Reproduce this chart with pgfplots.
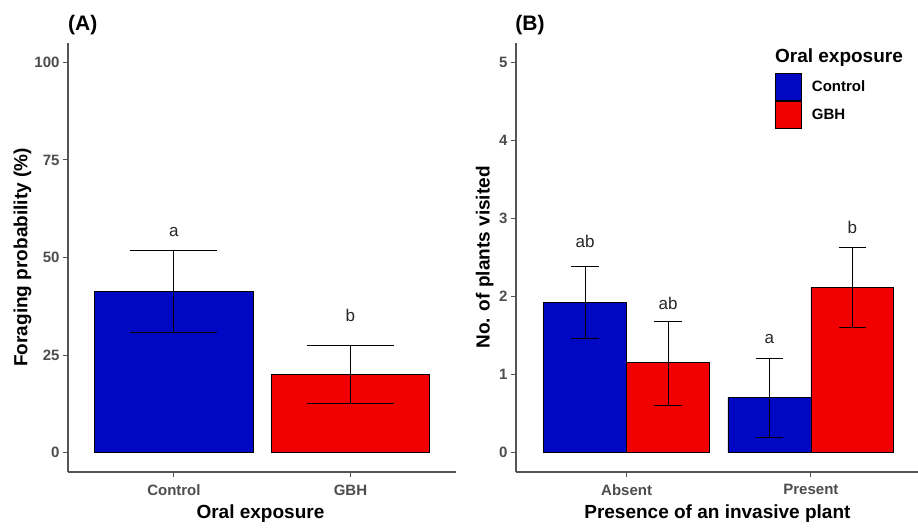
\documentclass[border=0pt]{standalone}
\usepackage{fontspec}
\setmainfont{Liberation Sans}
\usepackage{pgfplots}
\pgfplotsset{compat=1.18}

\definecolor{ctrlblue}{RGB}{0,8,196}
\definecolor{gbhred}{RGB}{240,0,0}
\definecolor{ticktext}{RGB}{77,77,77}
\definecolor{axisgray}{RGB}{85,85,85}

\pgfplotsset{
  panel/.style={
    scale only axis, height=429pt,
    axis lines*=left, axis line style={axisgray, line width=1.1pt, -},
    tick align=outside, major tick length=5pt,
    tick style={axisgray, line width=1pt},
    xmin=0.4, xtick={1,2},
    ticklabel style={font=\fontsize{15}{18}\selectfont\bfseries, text=ticktext},
    xticklabel style={yshift=-4pt},
    /pgf/number format/assume math mode=true,
    label style={font=\fontsize{19}{22}\selectfont\bfseries},
    ybar, bar shift=0pt,
    clip=false,
  },
  ebar/.style={error bars/.cd, y dir=both, y explicit, error mark=|,
    error bar style={black, line width=1pt},
    error mark options={black, line width=1pt, mark size=#1}},
}
\tikzset{letter/.style={font=\fontsize{17}{20}\selectfont, text=black!85}}

\begin{document}
\begin{tikzpicture}
\path[use as bounding box] (0,0) rectangle (918pt,528pt);

% (A) foraging probability
\begin{axis}[panel, at={(68pt,56pt)}, anchor=south west,
    width=388pt, xmax=2.598,
    ymin=-5, ymax=105, ytick={0,25,50,75,100},
    xticklabels={Control,GBH}, bar width=0.9,
    ylabel={Foraging probability (\%)}, xlabel={Oral exposure},
    ylabel style={at={(axis description cs:-0.117,0.5)}, anchor=center},
    xlabel style={at={(axis description cs:0.496,-0.098)}, anchor=center},
]
\addplot[fill=ctrlblue, draw=black, line width=0.8pt, ebar=43.5pt]
  coordinates {(1,41.3) += (0,10.6) -= (0,10.5)};
\addplot[fill=gbhred, draw=black, line width=0.8pt, ebar=43.5pt]
  coordinates {(2,20.0) += (0,7.4) -= (0,7.5)};
\node[letter] at (axis cs:1,56.5) {a};
\node[letter] at (axis cs:2,35.2) {b};
\node[font=\fontsize{21}{24}\selectfont\bfseries, anchor=west, inner sep=0pt]
  at (axis description cs:0,1.042) {(A)};
\end{axis}

% (B) plants visited
\begin{axis}[panel, at={(516pt,56pt)}, anchor=south west,
    width=402pt, xmax=2.581,
    ymin=-0.25, ymax=5.25, ytick={0,1,2,3,4,5},
    xticklabels={Absent,Present}, bar width=0.45,
    ylabel={No. of plants visited}, xlabel={Presence of an invasive plant},
    ylabel style={at={(axis description cs:-0.078,0.5)}, anchor=center},
    xlabel style={at={(axis description cs:0.501,-0.098)}, anchor=center},
    legend style={at={(axis description cs:0.644,0.931)}, anchor=north west,
      draw=none, fill=none, inner sep=0pt, row sep=0pt,
      font=\fontsize{15}{18}\selectfont\bfseries,
      nodes={inner xsep=0pt, inner ysep=0pt}},
    legend cell align=left,
    legend image code/.code={\draw[#1, draw=black, line width=1pt]
      (0pt,-13.5pt) rectangle (26pt,13.5pt); \path (36pt,0pt);},
]
\addplot[fill=ctrlblue, draw=black, line width=0.8pt, ebar=13.7pt]
  coordinates {(0.775,1.926) += (0,0.461) -= (0,0.464)
               (1.775,0.711) += (0,0.491) -= (0,0.515)};
\addlegendentry{Control}
\addplot[fill=gbhred, draw=black, line width=0.8pt, ebar=13.7pt]
  coordinates {(1.225,1.151) += (0,0.528) -= (0,0.542)
               (2.225,2.118) += (0,0.516) -= (0,0.520)};
\addlegendentry{GBH}
\node[letter] at (axis cs:0.775,2.70) {ab};
\node[letter] at (axis cs:1.225,1.91) {ab};
\node[letter] at (axis cs:1.775,1.46) {a};
\node[letter] at (axis cs:2.225,2.885) {b};
\node[font=\fontsize{19}{22}\selectfont\bfseries, anchor=west, inner sep=0pt]
  at (axis description cs:0.644,0.967) {Oral exposure};
\node[font=\fontsize{21}{24}\selectfont\bfseries, anchor=west, inner sep=0pt]
  at (axis description cs:-0.002,1.042) {(B)};
\end{axis}
\end{tikzpicture}
\end{document}
